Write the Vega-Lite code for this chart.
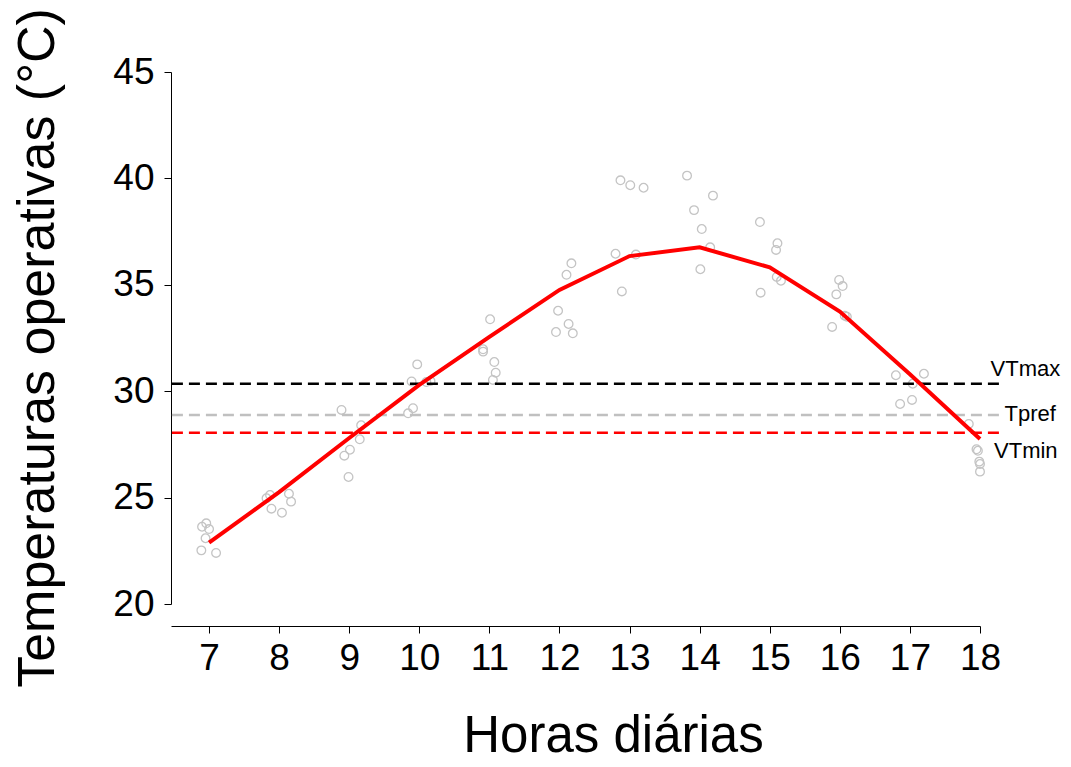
{
  "$schema": "https://vega.github.io/schema/vega-lite/v6.json",
  "width": 809,
  "height": 532,
  "autosize": "none",
  "padding": {"left": 171, "top": 72, "right": 91, "bottom": 163},
  "background": "white",
  "config": {
    "view": {"stroke": null},
    "font": "Liberation Sans",
    "axis": {"grid": false, "domainColor": "black", "tickColor": "black", "domainWidth": 1, "tickWidth": 1, "tickSize": 7, "labelColor": "black", "titleColor": "black", "titleFontWeight": "normal", "labelFont": "Liberation Sans", "titleFont": "Liberation Sans"}
  },
  "datasets": {
    "pts": [
      {"hora": 6.90, "temp": 23.63}, {"hora": 6.96, "temp": 23.79}, {"hora": 7.00, "temp": 23.52}, {"hora": 6.95, "temp": 23.09}, {"hora": 6.89, "temp": 22.52}, {"hora": 7.10, "temp": 22.40},
      {"hora": 7.82, "temp": 24.97}, {"hora": 7.87, "temp": 25.12}, {"hora": 8.14, "temp": 25.18}, {"hora": 8.17, "temp": 24.81}, {"hora": 7.89, "temp": 24.48}, {"hora": 8.04, "temp": 24.29},
      {"hora": 8.89, "temp": 29.12}, {"hora": 9.17, "temp": 28.40}, {"hora": 9.15, "temp": 27.74}, {"hora": 9.01, "temp": 27.25}, {"hora": 8.93, "temp": 26.97}, {"hora": 8.99, "temp": 25.97},
      {"hora": 9.89, "temp": 30.46}, {"hora": 9.97, "temp": 31.26}, {"hora": 9.91, "temp": 29.20}, {"hora": 9.84, "temp": 28.96}, {"hora": 10.10, "temp": 30.43}, {"hora": 10.16, "temp": 30.48},
      {"hora": 11.01, "temp": 33.38}, {"hora": 10.91, "temp": 31.97}, {"hora": 10.91, "temp": 31.86}, {"hora": 11.07, "temp": 31.37}, {"hora": 11.09, "temp": 30.87}, {"hora": 11.05, "temp": 30.53},
      {"hora": 12.17, "temp": 36.01}, {"hora": 12.10, "temp": 35.47}, {"hora": 11.98, "temp": 33.78}, {"hora": 12.13, "temp": 33.16}, {"hora": 11.95, "temp": 32.78}, {"hora": 12.19, "temp": 32.72},
      {"hora": 12.80, "temp": 36.46}, {"hora": 13.09, "temp": 36.42}, {"hora": 12.89, "temp": 34.69}, {"hora": 12.87, "temp": 39.91}, {"hora": 13.01, "temp": 39.68}, {"hora": 13.20, "temp": 39.56},
      {"hora": 13.82, "temp": 40.13}, {"hora": 14.19, "temp": 39.19}, {"hora": 13.92, "temp": 38.51}, {"hora": 14.03, "temp": 37.62}, {"hora": 14.15, "temp": 36.76}, {"hora": 14.01, "temp": 35.73},
      {"hora": 14.86, "temp": 37.95}, {"hora": 15.11, "temp": 36.95}, {"hora": 15.09, "temp": 36.64}, {"hora": 15.10, "temp": 35.37}, {"hora": 15.16, "temp": 35.19}, {"hora": 14.87, "temp": 34.63},
      {"hora": 15.99, "temp": 35.23}, {"hora": 16.04, "temp": 34.94}, {"hora": 15.95, "temp": 34.55}, {"hora": 16.10, "temp": 33.50}, {"hora": 16.07, "temp": 33.55}, {"hora": 15.89, "temp": 33.02},
      {"hora": 16.80, "temp": 30.75}, {"hora": 17.20, "temp": 30.82}, {"hora": 17.04, "temp": 30.35}, {"hora": 16.86, "temp": 29.40}, {"hora": 17.03, "temp": 29.59},
      {"hora": 17.84, "temp": 28.46}, {"hora": 17.95, "temp": 27.27}, {"hora": 17.97, "temp": 27.20}, {"hora": 17.99, "temp": 26.69}, {"hora": 18.00, "temp": 26.58}, {"hora": 18.00, "temp": 26.22}
    ],
    "medias": [
      {"hora": 7, "temp": 22.88}, {"hora": 8, "temp": 25.26}, {"hora": 9, "temp": 27.8}, {"hora": 10, "temp": 30.3},
      {"hora": 11, "temp": 32.55}, {"hora": 12, "temp": 34.76}, {"hora": 13, "temp": 36.35}, {"hora": 14, "temp": 36.76},
      {"hora": 15, "temp": 35.82}, {"hora": 16, "temp": 33.74}, {"hora": 17, "temp": 30.8}, {"hora": 18, "temp": 27.75}
    ],
    "refs": [
      {"nombre": "VTmax", "temp": 30.35},
      {"nombre": "Tpref", "temp": 28.88},
      {"nombre": "VTmin", "temp": 28.05}
    ],
    "etiquetas": [
      {"nombre": "VTmax", "hora": 18.15, "temp": 31.04},
      {"nombre": "Tpref", "hora": 18.35, "temp": 28.93},
      {"nombre": "VTmin", "hora": 18.2, "temp": 27.19}
    ]
  },
  "layer": [
    {
      "data": {"name": "pts"},
      "mark": {"type": "point", "filled": false, "stroke": "#c4c4c4", "strokeWidth": 1.3, "size": 75, "opacity": 1},
      "encoding": {
        "x": {"field": "hora", "type": "quantitative", "scale": {"domain": [6.457, 18], "nice": false, "zero": false},
          "axis": {"values": [7, 8, 9, 10, 11, 12, 13, 14, 15, 16, 17, 18], "format": "d", "labelOverlap": false, "labelFlush": false, "offset": 22, "labelFontSize": 37, "labelPadding": 7, "title": "Horas diárias", "titleFontSize": 51, "titleX": 442, "titleY": 125, "titleAlign": "center", "titleBaseline": "alphabetic", "titleAnchor": null}},
        "y": {"field": "temp", "type": "quantitative", "scale": {"domain": [20, 45], "nice": false, "zero": false},
          "axis": {"values": [20, 25, 30, 35, 40, 45], "format": "d", "labelOverlap": false, "labelFlush": false, "labelFontSize": 37, "labelPadding": 10, "title": "Temperaturas operativas (°C)", "titleFontSize": 52, "titleAngle": -90, "titleX": -118, "titleY": 275.5, "titleAlign": "center", "titleBaseline": "alphabetic", "titleAnchor": null}}
      }
    },
    {
      "data": {"name": "refs"},
      "mark": {"type": "rule", "strokeDash": [11, 6], "strokeWidth": 2.5},
      "encoding": {
        "x": {"datum": 6.47, "type": "quantitative"},
        "x2": {"datum": 18.29},
        "y": {"field": "temp", "type": "quantitative"},
        "color": {"field": "nombre", "type": "nominal", "scale": {"domain": ["VTmax", "Tpref", "VTmin"], "range": ["black", "#c0c0c0", "#ff0000"]}, "legend": null}
      }
    },
    {
      "data": {"name": "medias"},
      "mark": {"type": "line", "color": "#ff0000", "strokeWidth": 4},
      "encoding": {
        "x": {"field": "hora", "type": "quantitative"},
        "y": {"field": "temp", "type": "quantitative"}
      }
    },
    {
      "data": {"name": "etiquetas"},
      "mark": {"type": "text", "align": "left", "baseline": "middle", "fontSize": 22, "font": "Liberation Sans", "color": "black"},
      "encoding": {
        "x": {"field": "hora", "type": "quantitative"},
        "y": {"field": "temp", "type": "quantitative"},
        "text": {"field": "nombre", "type": "nominal"}
      }
    }
  ]
}
